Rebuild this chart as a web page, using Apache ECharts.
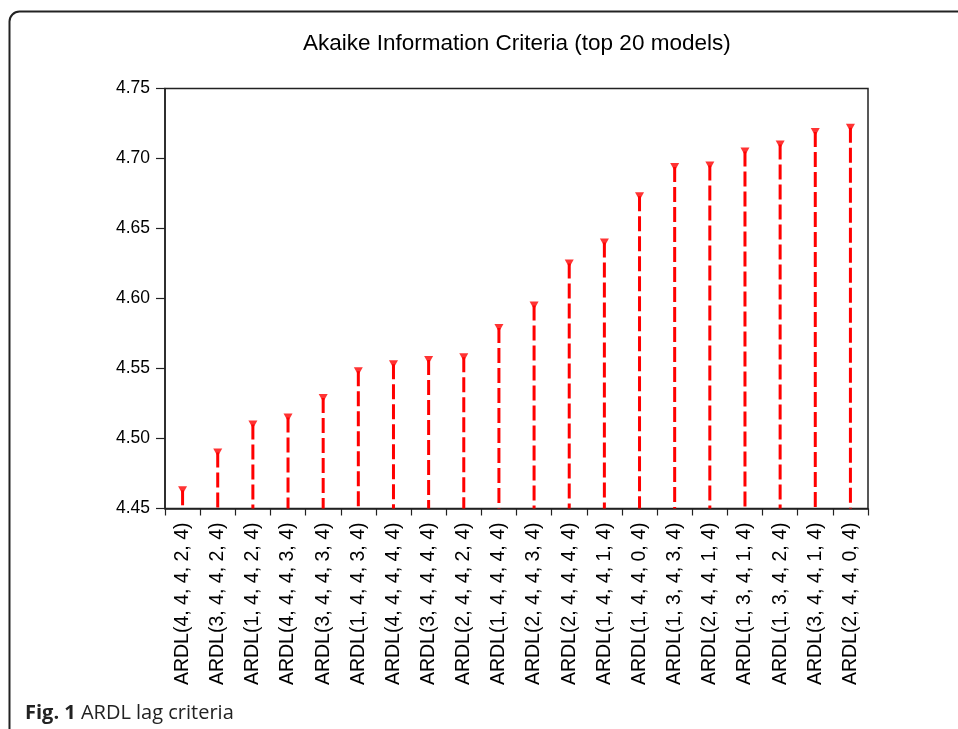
<!DOCTYPE html>
<html>
<head>
<meta charset="utf-8">
<script src="https://cdn.jsdelivr.net/npm/echarts@6/dist/echarts.min.js"></script>
<style>
html,body{margin:0;padding:0;background:#fff;}
#chart{width:958px;height:729px;}
</style>
</head>
<body>
<div id="chart"></div>
<script>
var categories = ['ARDL(4, 4, 4, 2, 4)', 'ARDL(3, 4, 4, 2, 4)', 'ARDL(1, 4, 4, 2, 4)', 'ARDL(4, 4, 4, 3, 4)', 'ARDL(3, 4, 4, 3, 4)', 'ARDL(1, 4, 4, 3, 4)', 'ARDL(4, 4, 4, 4, 4)', 'ARDL(3, 4, 4, 4, 4)', 'ARDL(2, 4, 4, 2, 4)', 'ARDL(1, 4, 4, 4, 4)', 'ARDL(2, 4, 4, 3, 4)', 'ARDL(2, 4, 4, 4, 4)', 'ARDL(1, 4, 4, 1, 4)', 'ARDL(1, 4, 4, 0, 4)', 'ARDL(1, 3, 4, 3, 4)', 'ARDL(2, 4, 4, 1, 4)', 'ARDL(1, 3, 4, 1, 4)', 'ARDL(1, 3, 4, 2, 4)', 'ARDL(3, 4, 4, 1, 4)', 'ARDL(2, 4, 4, 0, 4)'];
var aic = [4.463, 4.490, 4.510, 4.515, 4.529, 4.548, 4.553, 4.556, 4.558, 4.579, 4.595, 4.625, 4.640, 4.673, 4.694, 4.695, 4.705, 4.710, 4.719, 4.722];
var yMin = 4.45, yMax = 4.75, yStep = 0.05;
var titleText = 'Akaike Information Criteria (top 20 models)';

var chart = echarts.init(document.getElementById('chart'), null, {renderer: 'canvas'});
var font = 'Liberation Sans, Arial, sans-serif';
var option = {
  animation: false,
  backgroundColor: '#fff',
  title: {
    text: titleText,
    left: 298,
    top: 27,
    textStyle: {fontFamily: font, fontSize: 22.5, fontWeight: 'normal', color: '#000'}
  },
  grid: {
    left: 165, right: 90, top: 88.5, bottom: 220.5,
    show: true, borderColor: '#222', borderWidth: 1.5, backgroundColor: 'transparent'
  },
  xAxis: {
    type: 'category',
    data: categories,
    boundaryGap: true,
    axisLine: {lineStyle: {color: '#222', width: 1.5}},
    axisTick: {show: true, inside: false, length: 7, lineStyle: {color: '#222', width: 1.2}},
    axisLabel: {rotate: 90, fontSize: 19.5, fontFamily: font, color: '#000', margin: 14, interval: 0}
  },
  yAxis: {
    type: 'value',
    min: yMin, max: yMax, interval: yStep,
    splitLine: {show: false},
    axisLine: {show: true, lineStyle: {color: '#222', width: 1.5}},
    axisTick: {show: true, inside: false, length: 9, lineStyle: {color: '#222', width: 1.2}},
    axisLabel: {fontSize: 17.5, fontFamily: font, color: '#000', margin: 15,
      formatter: function (v) { return v.toFixed(2); }}
  },
  graphic: [
    {type: 'rect', shape: {x: 9.5, y: 11.5, width: 1000, height: 800, r: 10},
     style: {fill: 'none', stroke: '#222', lineWidth: 2}, silent: true, z: 100},
    {type: 'text', x: 25, y: 703,
     style: {text: '{b|Fig. 1} ARDL lag criteria', fontFamily: 'Open Sans, sans-serif', fontSize: 20, fill: '#222',
       rich: {b: {fontWeight: 'bold', fontFamily: 'Open Sans, sans-serif', fontSize: 20, fill: '#222'}}},
     z: 100}
  ],
  series: [
    {
      type: 'custom',
      data: aic.map(function (v, i) { return [i, v]; }),
      encode: {x: 0, y: 1},
      renderItem: function (params, api) {
        var top = api.coord([api.value(0), api.value(1)]);
        var base = api.coord([api.value(0), yMin]);
        return {
          type: 'line',
          shape: {x1: top[0], y1: top[1], x2: base[0], y2: base[1]},
          style: {stroke: '#ff0000', lineWidth: 3, lineDash: [15, 5]}
        };
      },
      z: 2
    },
    {
      type: 'scatter',
      data: aic.map(function (v, i) { return [i, v]; }),
      symbol: 'triangle',
      symbolRotate: 180,
      symbolSize: [9, 8],
      itemStyle: {color: '#ff0000'},
      z: 3
    }
  ]
};
chart.setOption(option);
</script>
</body>
</html>
